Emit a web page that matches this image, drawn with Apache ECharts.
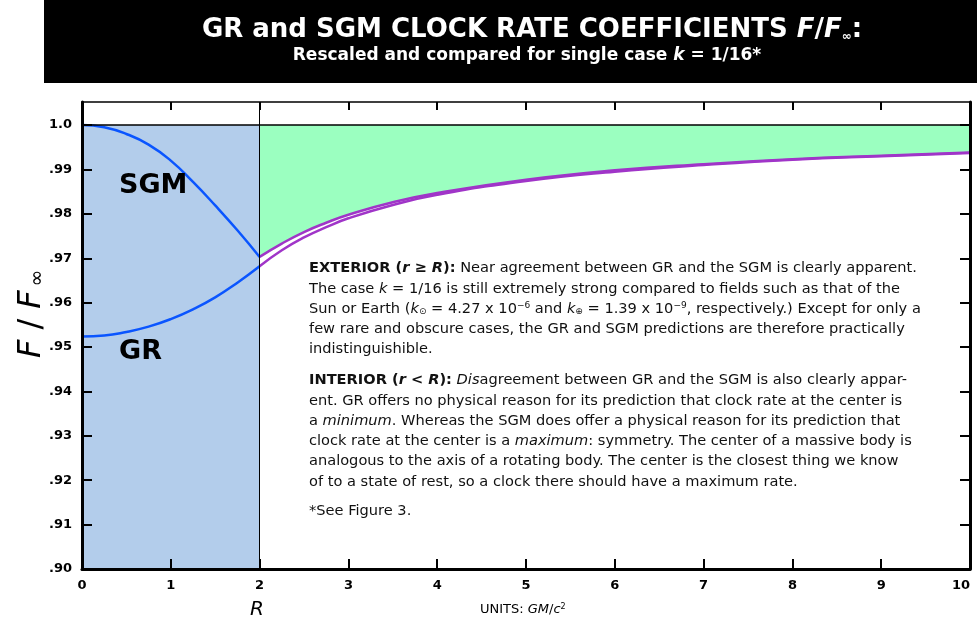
<!DOCTYPE html>
<html>
<head>
<meta charset="utf-8">
<title>GR and SGM clock rate coefficients</title>
<script src="https://cdn.jsdelivr.net/npm/echarts@6/dist/echarts.min.js"></script>
<style>
  html, body { margin: 0; padding: 0; background: #fff; }
  #chart { width: 977px; height: 624px; }
</style>
</head>
<body>
<div id="chart"></div>
<script>
// interior (r < R)
const xInterior = [0, 0.25, 0.5, 0.75, 1.0, 1.25, 1.5, 1.75, 2.0]
const sgmInterior = [1.0000, 0.9995, 0.9980, 0.9956, 0.9920, 0.9872, 0.9819, 0.9763, 0.9703]
const grInterior = [0.9524, 0.9526, 0.9534, 0.9546, 0.9563, 0.9585, 0.9612, 0.9645, 0.9682]

// exterior (r >= R)
const xExterior = [2, 2.25, 2.5, 2.75, 3, 3.5, 4, 5, 6, 7, 8, 9, 10]
const sgmExterior = [0.9703, 0.9733, 0.9759, 0.9780, 0.9798, 0.9826, 0.9847, 0.9877, 0.9898, 0.9912, 0.9923, 0.9931, 0.9938]
const grExterior = [0.9682, 0.9718, 0.9747, 0.9770, 0.9790, 0.9820, 0.9843, 0.9874, 0.9895, 0.9910, 0.9922, 0.9930, 0.9937]

const xTicks = [0, 1, 2, 3, 4, 5, 6, 7, 8, 9, 10]
const yTicks = [0.90, 0.91, 0.92, 0.93, 0.94, 0.95, 0.96, 0.97, 0.98, 0.99, 1.0]
const yTickLabels = ['.90', '.91', '.92', '.93', '.94', '.95', '.96', '.97', '.98', '.99', '1.0']

const BLUE = '#0a55ff'
const PURPLE = '#a035c8'
const FONT = '"DejaVu Sans", "Open Sans", sans-serif'
const TXT = 14.6

const zip = (xs, ys) => xs.map((x, i) => [x, ys[i]])

const yLabel = v => {
  const i = yTicks.findIndex(t => Math.abs(t - v) < 1e-6)
  return i < 0 ? '' : yTickLabels[i]
}

const chart = echarts.init(document.getElementById('chart'))

const rich = {
  b: { fontFamily: FONT, fontSize: TXT, fontWeight: 'bold', color: '#111' },
  bi: { fontFamily: FONT, fontSize: TXT, fontWeight: 'bold', fontStyle: 'italic', color: '#111' },
  i: { fontFamily: FONT, fontSize: TXT, fontStyle: 'italic', color: '#111' },
  sub: { fontFamily: FONT, fontSize: 9, color: '#111', verticalAlign: 'bottom' },
  sup: { fontFamily: FONT, fontSize: 9, color: '#111', verticalAlign: 'top' }
}

const exteriorLines = [
  '{b|EXTERIOR (}{bi|r}{b| ≥ }{bi|R}{b|):} Near agreement between GR and the SGM is clearly apparent.',
  'The case {i|k} = 1/16 is still extremely strong compared to fields such as that of the',
  'Sun or Earth ({i|k}{sub|⊙} = 4.27 x 10{sup|−6} and {i|k}{sub|⊕} = 1.39 x 10{sup|−9}, respectively.) Except for only a',
  'few rare and obscure cases, the GR and SGM predictions are therefore practically',
  'indistinguishible.'
]
const interiorLines = [
  '{b|INTERIOR (}{bi|r}{b| < }{bi|R}{b|):} {i|Dis}agreement between GR and the SGM is also clearly appar-',
  'ent. GR offers no physical reason for its prediction that clock rate at the center is',
  'a {i|minimum}. Whereas the SGM does offer a physical reason for its prediction that',
  'clock rate at the center is a {i|maximum}: symmetry. The center of a massive body is',
  'analogous to the axis of a rotating body. The center is the closest thing we know',
  'of to a state of rest, so a clock there should have a maximum rate.'
]

const textLine = (str, y) => ({
  type: 'text',
  left: 309,
  top: y,
  z: 100,
  style: {
    text: str,
    fontFamily: FONT,
    fontSize: TXT,
    fill: '#111',
    rich: rich
  }
})

const graphics = [
  { type: 'rect', left: 44, top: 0, shape: { width: 933, height: 83 }, style: { fill: '#000' }, z: 90 },
  {
    type: 'text', x: 532, y: 17, z: 100,
    style: {
      text: 'GR and SGM CLOCK RATE COEFFICIENTS {ti|F}/{ti|F}{inf|∞}{t|:}',
      align: 'center',
      fill: '#fff', fontFamily: FONT, fontSize: 26, fontWeight: 'bold',
      rich: {
        ti: { fill: '#fff', fontFamily: FONT, fontSize: 26, fontWeight: 'bold', fontStyle: 'italic' },
        inf: { fill: '#fff', fontFamily: FONT, fontSize: 12, fontWeight: 'bold', verticalAlign: 'bottom' },
        t: { fill: '#fff', fontFamily: FONT, fontSize: 26, fontWeight: 'bold' }
      }
    }
  },
  {
    type: 'text', x: 527, y: 47, z: 100,
    style: {
      text: 'Rescaled and compared for single case {ti|k} = 1/16*',
      align: 'center',
      fill: '#fff', fontFamily: FONT, fontSize: 17, fontWeight: 'bold',
      rich: { ti: { fill: '#fff', fontFamily: FONT, fontSize: 17, fontWeight: 'bold', fontStyle: 'italic' } }
    }
  },
  {
    type: 'text', left: 119, top: 172, z: 100,
    style: { text: 'SGM', fill: '#000', fontFamily: FONT, fontSize: 27, fontWeight: 'bold' }
  },
  {
    type: 'text', left: 119, top: 338, z: 100,
    style: { text: 'GR', fill: '#000', fontFamily: FONT, fontSize: 27, fontWeight: 'bold' }
  },
  {
    type: 'text', x: 16, y: 362, rotation: Math.PI / 2, z: 100,
    style: {
      text: '{ti|F}{sl|/}{ti|F}{inf|∞}',
      fill: '#000', fontFamily: FONT, fontSize: 32,
      rich: {
        ti: { fill: '#000', fontFamily: FONT, fontSize: 32, fontStyle: 'italic', padding: [0, 4] },
        sl: { fill: '#000', fontFamily: FONT, fontSize: 32, padding: [0, 6] },
        inf: { fill: '#000', fontFamily: FONT, fontSize: 20, verticalAlign: 'bottom' }
      }
    }
  },
  {
    type: 'text', left: 250, top: 600, z: 100,
    style: { text: 'R', fill: '#000', fontFamily: FONT, fontSize: 20, fontStyle: 'italic' }
  },
  {
    type: 'text', left: 480, top: 603, z: 100,
    style: {
      text: 'UNITS: {i|GM}/{i|c}{s|2}',
      fill: '#000', fontFamily: FONT, fontSize: 13,
      rich: {
        i: { fill: '#000', fontFamily: FONT, fontSize: 13, fontStyle: 'italic' },
        s: { fill: '#000', fontFamily: FONT, fontSize: 8, verticalAlign: 'top' }
      }
    }
  },
  textLine('*See Figure 3.', 504)
]
exteriorLines.forEach((l, i) => graphics.push(textLine(l, 261 + i * 20.3)))
interiorLines.forEach((l, i) => graphics.push(textLine(l, 373 + i * 20.3)))

// axes sit above the filled areas
const yAxisBase = {
  type: 'value', min: 0.9, max: 1.0052, interval: 0.01, z: 10,
  axisLine: { onZero: false, lineStyle: { color: '#000', width: 3 } },
  axisTick: { inside: true, length: 10, customValues: yTicks, lineStyle: { color: '#000', width: 2 } },
  splitLine: { show: false }
}

const option = {
  animation: false,
  backgroundColor: '#fff',
  grid: { left: 82, right: 7, top: 102, bottom: 55, outerBoundsMode: 'none' },
  xAxis: [
    {
      type: 'value', position: 'bottom', min: 0, max: 10, interval: 1, z: 10,
      axisLine: { onZero: false, lineStyle: { color: '#000', width: 3 } },
      axisTick: { inside: true, length: 10, lineStyle: { color: '#000', width: 2 } },
      axisLabel: {
        margin: 10, color: '#000', fontFamily: FONT, fontSize: 13, fontWeight: 'bold',
        alignMaxLabel: 'right',
        formatter: v => (xTicks.includes(v) ? String(v) : '')
      },
      splitLine: { show: false }
    },
    {
      type: 'value', position: 'top', min: 0, max: 10, interval: 1, z: 10,
      axisLine: { onZero: false, lineStyle: { color: '#000', width: 1.5 } },
      axisTick: { inside: true, length: 8, lineStyle: { color: '#000', width: 2 } },
      axisLabel: { show: false },
      splitLine: { show: false }
    }
  ],
  yAxis: [
    Object.assign({}, yAxisBase, {
      position: 'left',
      axisLabel: {
        margin: 10, color: '#000', fontFamily: FONT, fontSize: 13, fontWeight: 'bold',
        customValues: yTicks, formatter: yLabel
      }
    }),
    Object.assign({}, yAxisBase, {
      position: 'right',
      axisLabel: { show: false }
    })
  ],
  series: [
    {
      name: 'interior fill', type: 'line', z: 1,
      data: [[0, 1], [2, 1]],
      symbol: 'none', lineStyle: { width: 0 },
      areaStyle: { origin: 'start', color: '#b3cdeb', opacity: 1 }
    },
    {
      name: 'SGM exterior', type: 'line', z: 3,
      data: zip(xExterior, sgmExterior),
      smooth: true, symbol: 'none',
      lineStyle: { color: PURPLE, width: 2.5 },
      areaStyle: { origin: 1, color: '#9bffc0', opacity: 1 }
    },
    {
      name: 'GR exterior', type: 'line', z: 3,
      data: zip(xExterior, grExterior),
      smooth: true, symbol: 'none',
      lineStyle: { color: PURPLE, width: 2.5 }
    },
    {
      name: 'SGM interior', type: 'line', z: 4,
      data: zip(xInterior, sgmInterior),
      smooth: true, symbol: 'none',
      lineStyle: { color: BLUE, width: 2.5 }
    },
    {
      name: 'GR interior', type: 'line', z: 4,
      data: zip(xInterior, grInterior),
      smooth: true, symbol: 'none',
      lineStyle: { color: BLUE, width: 2.5 }
    },
    {
      name: 'unity', type: 'line', z: 5,
      data: [[0, 1], [10, 1]],
      symbol: 'none',
      lineStyle: { color: '#000', width: 1.5 },
      markLine: {
        silent: true, symbol: 'none', label: { show: false },
        lineStyle: { color: '#000', width: 1, type: 'solid' },
        data: [{ xAxis: 2 }]
      }
    }
  ],
  graphic: graphics
}

chart.setOption(option)
</script>
</body>
</html>
